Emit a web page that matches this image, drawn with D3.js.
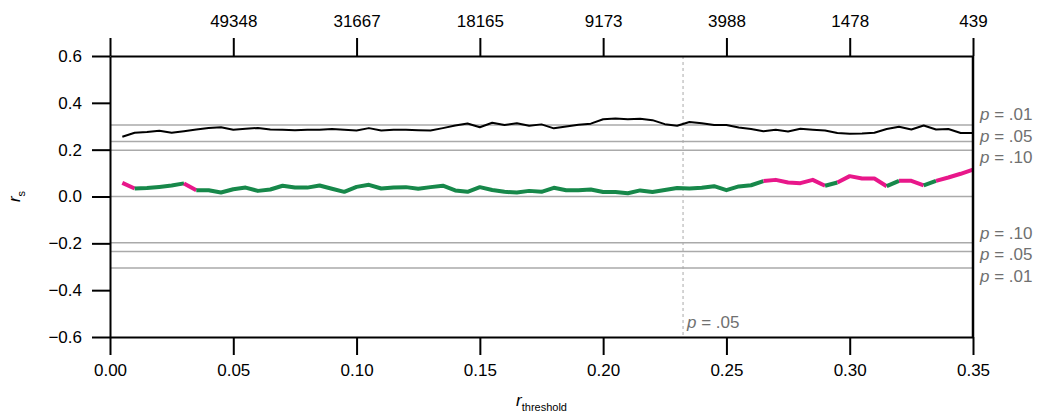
<!DOCTYPE html>
<html lang="en">
<head>
<meta charset="UTF-8"/>
<title>rs vs r threshold</title>
<script src="https://d3js.org/d3.v7.min.js"></script>
<style>
    body { margin: 0; background: #fff; }
    text { font-family: 'Liberation Sans', Arial, sans-serif; }
</style>
</head>
<body>
<script>
    // Data
    var thresholds = [0.005,0.010,0.015,0.020,0.025,0.030,0.035,0.040,0.045,0.050,
        0.055,0.060,0.065,0.070,0.075,0.080,0.085,0.090,0.095,0.100,
        0.105,0.110,0.115,0.120,0.125,0.130,0.135,0.140,0.145,0.150,
        0.155,0.160,0.165,0.170,0.175,0.180,0.185,0.190,0.195,0.200,
        0.205,0.210,0.215,0.220,0.225,0.230,0.235,0.240,0.245,0.250,
        0.255,0.260,0.265,0.270,0.275,0.280,0.285,0.290,0.295,0.300,
        0.305,0.310,0.315,0.320,0.325,0.330,0.335,0.340,0.345,0.350];

    var blackSeries = [0.255,0.272,0.275,0.281,0.272,0.279,0.286,0.293,0.296,0.285,
        0.289,0.293,0.286,0.285,0.283,0.285,0.285,0.288,0.285,0.282,
        0.292,0.282,0.285,0.285,0.283,0.282,0.292,0.303,0.312,0.296,
        0.315,0.305,0.313,0.302,0.308,0.291,0.299,0.306,0.311,0.330,
        0.333,0.330,0.332,0.326,0.309,0.302,0.318,0.313,0.305,0.305,
        0.295,0.288,0.279,0.285,0.278,0.289,0.285,0.282,0.271,0.268,
        0.269,0.272,0.288,0.298,0.286,0.303,0.286,0.288,0.271,0.271];

    var greenSeries = [0.058,0.034,0.036,0.041,0.047,0.056,0.027,0.027,0.017,0.031,
        0.038,0.024,0.030,0.046,0.038,0.038,0.047,0.033,0.020,0.041,
        0.050,0.034,0.038,0.040,0.033,0.040,0.046,0.026,0.020,0.040,
        0.028,0.020,0.017,0.024,0.020,0.037,0.027,0.027,0.030,0.019,
        0.019,0.014,0.026,0.019,0.028,0.036,0.034,0.037,0.044,0.027,
        0.043,0.048,0.066,0.071,0.060,0.057,0.071,0.046,0.060,0.087,
        0.077,0.077,0.044,0.067,0.067,0.048,0.067,0.081,0.097,0.115];

    // threshold ranges where the lower line is drawn in magenta
    var highlightRanges = [[0.005,0.010],[0.030,0.035],[0.265,0.290],[0.295,0.315],[0.320,0.330],[0.335,0.350]];

    var pValues = [0.305, 0.235, 0.198];
    var pLabels = [".01", ".05", ".10"];
    var criticalThreshold = 0.2324;

    var xTicks = [0, 0.05, 0.10, 0.15, 0.20, 0.25, 0.30, 0.35];
    var topLabels = ["", "49348", "31667", "18165", "9173", "3988", "1478", "439"];
    var yTicks = [-0.6, -0.4, -0.2, 0, 0.2, 0.4, 0.6];

    // Dimensions
    var w = 1039, h = 417;
    var padL = 110, padR = 973, padT = 56, padB = 337;
    var tick = 18;

    var svg = d3.select("body").append("svg")
        .attr("width", w)
        .attr("height", h);

    var xScale = d3.scaleLinear().domain([0, 0.35]).range([padL, padR]);
    var yScale = d3.scaleLinear().domain([-0.6, 0.6]).range([padB, padT]);

    // Reference lines (zero and p thresholds)
    var refVals = [0].concat(pValues, pValues.map(d => -d));
    svg.append("g").selectAll("line")
        .data(refVals)
        .enter().append("line")
        .attr("x1", padL).attr("x2", padR)
        .attr("y1", d => yScale(d)).attr("y2", d => yScale(d))
        .attr("stroke", "#aaaaaa")
        .attr("stroke-width", 1.5);

    // Dashed vertical line
    svg.append("line")
        .attr("x1", xScale(criticalThreshold)).attr("x2", xScale(criticalThreshold))
        .attr("y1", padT).attr("y2", padB)
        .attr("stroke", "#aaaaaa")
        .attr("stroke-width", 1)
        .attr("stroke-dasharray", "3,3");

    var critLabel = svg.append("text")
        .attr("x", xScale(criticalThreshold) + 4)
        .attr("y", padB - 9)
        .attr("fill", "#707070")
        .attr("font-size", 17);
    critLabel.append("tspan").attr("font-style", "italic").text("p");
    critLabel.append("tspan").text(" = .05");

    // p labels on the right, spread around each group
    function pGroup(sign) {
        var vals = pValues.map(d => d * sign);
        var ys = vals.map(d => yScale(d));
        var order = d3.range(vals.length).sort((a, b) => ys[a] - ys[b]);
        var mid = d3.mean(ys) - (sign > 0 ? 3 : 0);
        order.forEach(function(k, j) {
            var t = svg.append("text")
                .attr("x", padR + 7)
                .attr("y", mid + (j - 1) * 21.5)
                .attr("dy", "0.35em")
                .attr("fill", "#707070")
                .attr("font-size", 17);
            t.append("tspan").attr("font-style", "italic").text("p");
            t.append("tspan").text(" = " + pLabels[k]);
        });
    }
    pGroup(1);
    pGroup(-1);

    // Lines
    var line = d3.line()
        .x(d => xScale(d[0]))
        .y(d => yScale(d[1]));

    svg.append("path")
        .datum(thresholds.map((t, i) => [t, blackSeries[i]]))
        .attr("d", line)
        .attr("fill", "none")
        .attr("stroke", "#000")
        .attr("stroke-width", 2)
        .attr("stroke-linejoin", "round");

    function isHighlight(a, b) {
        return highlightRanges.some(r => a >= r[0] - 1e-9 && b <= r[1] + 1e-9);
    }

    // group consecutive segments with same colour
    var runs = [];
    for (var i = 0; i < thresholds.length - 1; i++) {
        var hl = isHighlight(thresholds[i], thresholds[i + 1]);
        var last = runs[runs.length - 1];
        if (last && last.hl === hl) {
            last.pts.push([thresholds[i + 1], greenSeries[i + 1]]);
        } else {
            runs.push({ hl: hl, pts: [[thresholds[i], greenSeries[i]], [thresholds[i + 1], greenSeries[i + 1]]] });
        }
    }

    svg.append("g").selectAll("path")
        .data(runs)
        .enter().append("path")
        .attr("d", d => line(d.pts))
        .attr("fill", "none")
        .attr("stroke", d => d.hl ? "#e8178a" : "#17884a")
        .attr("stroke-width", 4)
        .attr("stroke-linejoin", "round");

    // Axes
    var xAxis = d3.axisBottom(xScale)
        .tickValues(xTicks)
        .tickFormat(d3.format(".2f"))
        .tickSize(tick)
        .tickSizeOuter(0)
        .tickPadding(9);

    var topAxis = d3.axisTop(xScale)
        .tickValues(xTicks)
        .tickFormat((d, i) => topLabels[i])
        .tickSize(tick)
        .tickSizeOuter(0)
        .tickPadding(11);

    var yAxis = d3.axisLeft(yScale)
        .tickValues(yTicks)
        .tickFormat(d => d3.format(".1f")(d).replace("-", "\u2212"))
        .tickSize(tick)
        .tickSizeOuter(0)
        .tickPadding(10);

    function styleAxis(g) {
        g.selectAll("path, line").attr("stroke", "#000").attr("stroke-width", 2);
        g.selectAll("text").attr("font-size", 17).attr("fill", "#000")
            .attr("font-family", "'Liberation Sans', Arial, sans-serif");
    }

    svg.append("g")
        .attr("transform", `translate(0,${padB})`)
        .call(xAxis).call(styleAxis);

    svg.append("g")
        .attr("transform", `translate(0,${padT})`)
        .call(topAxis).call(styleAxis);

    svg.append("g")
        .attr("transform", `translate(${padL},0)`)
        .call(yAxis).call(styleAxis);

    // Right frame line
    svg.append("line")
        .attr("x1", padR).attr("x2", padR)
        .attr("y1", padT).attr("y2", padB)
        .attr("stroke", "#000")
        .attr("stroke-width", 2.5);

    // Axis titles
    var xt = svg.append("text")
        .attr("x", (padL + padR) / 2)
        .attr("y", 406)
        .attr("text-anchor", "middle")
        .attr("font-size", 17);
    xt.append("tspan").attr("font-style", "italic").text("r");
    xt.append("tspan").attr("font-size", 11).attr("dy", 5).text("threshold");

    var yt = svg.append("text")
        .attr("transform", `translate(20,${(padT + padB) / 2}) rotate(-90)`)
        .attr("text-anchor", "middle")
        .attr("font-size", 17);
    yt.append("tspan").attr("font-style", "italic").text("r");
    yt.append("tspan").attr("font-size", 11).attr("dy", 5).text("s");
</script>
</body>
</html>
